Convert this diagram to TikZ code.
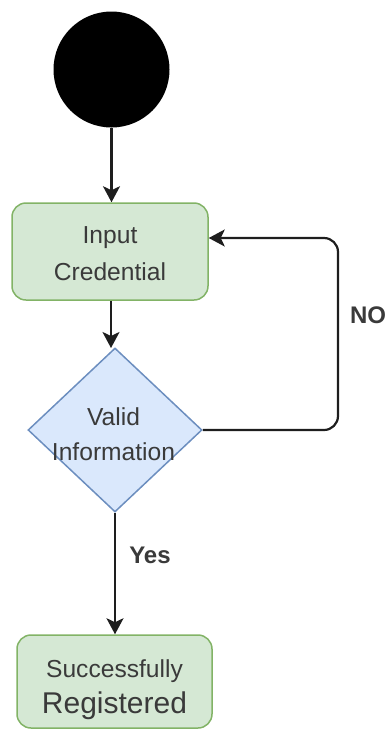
\documentclass[tikz,border=0pt]{standalone}
\usepackage{fontspec}
\setmainfont{Liberation Sans}
\usetikzlibrary{arrows.meta,shapes.geometric}
\definecolor{gfill}{HTML}{D5E8D4}
\definecolor{gline}{HTML}{82B366}
\definecolor{bfill}{HTML}{DAE8FC}
\definecolor{bline}{HTML}{6C8EBF}
\definecolor{txtc}{HTML}{3A3A3A}
\definecolor{linec}{HTML}{1E1E1E}
\tikzset{
  greenbox/.style={draw=gline, fill=gfill, line width=1.5pt, rounded corners=14pt, inner sep=0pt},
  decision/.style={diamond, draw=bline, fill=bfill, line width=1.5pt, inner sep=0pt, minimum width=174pt, minimum height=164pt},
  lbl/.style={anchor=base, text=txtc, inner sep=0pt, font=\fontsize{24.6}{29}\selectfont},
  biglbl/.style={anchor=base, text=txtc, inner sep=0pt, font=\fontsize{30}{36}\selectfont},
  edgelbl/.style={anchor=base, text=txtc, inner sep=0pt, font=\bfseries\fontsize{24}{29}\selectfont},
  flow/.style={draw=linec, line width=2.2pt, -{Stealth[length=16pt,width=17pt,inset=4pt]}}
}
\begin{document}
\begin{tikzpicture}[x=1pt,y=-1pt]
\useasboundingbox (0,0) rectangle (387,729);
% start
\node[circle, fill=black, minimum size=116pt, inner sep=0pt] (start) at (111.5,69.5) {};
% input box
\node[greenbox, minimum width=196pt, minimum height=97pt] (input) at (110,251.5) {};
\node[lbl] (t1) at (110,243) {Input};
\node[lbl] (t2) at (110,280) {Credential};
% decision
\node[decision] (dec) at (115,430) {};
\node[lbl] (t3) at (113.5,425) {Valid};
\node[lbl] (t4) at (113.5,460) {Information};
% final box
\node[greenbox, minimum width=195pt, minimum height=93pt] (done) at (114.5,681.5) {};
\node[lbl] (t5) at (114.5,677) {Successfully};
\node[biglbl] (t6) at (114.5,713) {Registered};
% connectors
\draw[flow] (start.south) -- (start.south |- input.north);
\draw[flow] (input.south -| 111,0) -- (111,348);
\coordinate (loopin) at (input.east |- 0,238);
\coordinate (loopx) at (338,0);
\draw[flow, rounded corners=14pt] (dec.east) -- (dec.east -| loopx) -- (loopx |- loopin) -- (loopin);
\draw[flow] (dec.south) -- (dec.south |- done.north);
% labels
\node[edgelbl] (no) at (368,323) {NO};
\node[edgelbl] (yes) at (150,563) {Yes};
\end{tikzpicture}
\end{document}
